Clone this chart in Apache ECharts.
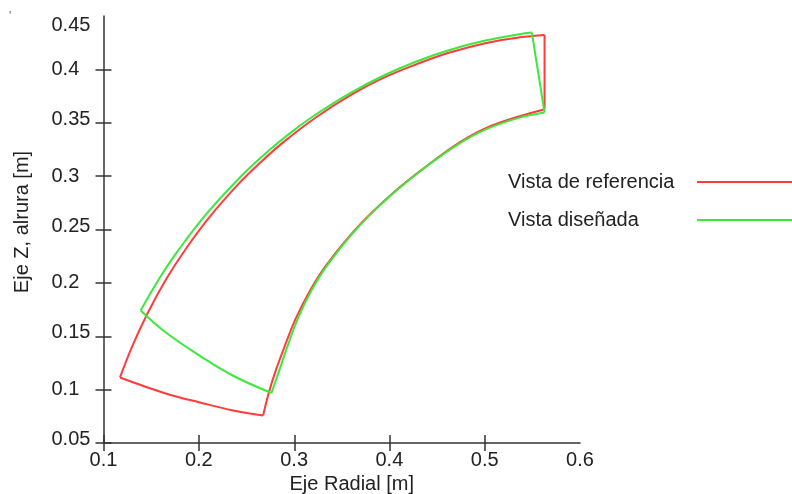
<!DOCTYPE html>
<html>
<head>
<meta charset="utf-8">
<script src="https://cdn.jsdelivr.net/npm/echarts@6/dist/echarts.min.js"></script>
<style>
html, body { margin: 0; padding: 0; background: #fff; }
#grafico { width: 792px; height: 494px; }
</style>
</head>
<body>
<div id="grafico"></div>
<script>
// vista de referencia: arco exterior, arco interior, borde inferior
var refExtRadial = [0.1173, 0.1300, 0.1460, 0.1660, 0.1865, 0.2116, 0.2410, 0.2640, 0.2885, 0.3235, 0.3584, 0.3930, 0.4283, 0.4632, 0.5017, 0.5366, 0.5628];
var refExtZ      = [0.1114, 0.1403, 0.1711, 0.2038, 0.2320, 0.2620, 0.2920, 0.3122, 0.3316, 0.3554, 0.3755, 0.3918, 0.4048, 0.4158, 0.4248, 0.4300, 0.4323];
var refIntRadial = [0.5628, 0.5366, 0.5017, 0.4737, 0.4388, 0.4038, 0.3689, 0.3340, 0.3165, 0.3018, 0.2903, 0.2808, 0.2735, 0.2675];
var refIntZ      = [0.3627, 0.3561, 0.3452, 0.3316, 0.3092, 0.2842, 0.2544, 0.2169, 0.1925, 0.1667, 0.1410, 0.1180, 0.0972, 0.0758];
var refInfRadial = [0.2675, 0.2361, 0.2012, 0.1662, 0.1173];
var refInfZ      = [0.0758, 0.0805, 0.0880, 0.0962, 0.1114];

// vista diseñada
var disExtRadial = [0.1390, 0.1592, 0.1767, 0.2082, 0.2465, 0.2738, 0.3000, 0.3235, 0.3584, 0.3930, 0.4283, 0.4632, 0.5017, 0.5366, 0.5495];
var disExtZ      = [0.1742, 0.2050, 0.2284, 0.2649, 0.3018, 0.3242, 0.3431, 0.3582, 0.3776, 0.3938, 0.4074, 0.4182, 0.4272, 0.4330, 0.4345];
var disIntRadial = [0.5628, 0.5366, 0.5017, 0.4737, 0.4388, 0.4038, 0.3689, 0.3345, 0.3180, 0.3040, 0.2932, 0.2845, 0.2763];
var disIntZ      = [0.3596, 0.3548, 0.3440, 0.3307, 0.3090, 0.2837, 0.2539, 0.2162, 0.1925, 0.1667, 0.1410, 0.1180, 0.0968];
var disInfRadial = [0.2763, 0.2361, 0.2012, 0.1662, 0.1390];
var disInfZ      = [0.0968, 0.1130, 0.1317, 0.1530, 0.1742];

var nombres = ['Vista de referencia', 'Vista diseñada'];
var colores = ['#ff3c3c', '#3de83d'];

// ejes
var xMin = 0.1, xMax = 0.6, xPaso = 0.1, xUltimaMarca = 0.5;
var zMin = 0.05, zMax = 0.45, zPaso = 0.05, zUltimaMarca = 0.4;

function pares(a, b) {
	var out = [];
	for (var i = 0; i < a.length; i++) out.push([a[i], b[i]]);
	return out;
}

function tramo(nombre, color, datos, suave) {
	return {
		name: nombre, type: 'line', xAxisIndex: 0, yAxisIndex: 0,
		symbol: 'none', smooth: suave,
		lineStyle: { color: color, width: 2 }, itemStyle: { color: color },
		data: datos
	};
}

// contorno completo con sus cuatro bordes
function contorno(nombre, color, extR, extZ, intR, intZ, infR, infZ) {
	var n = extR.length - 1;
	return [
		tramo(nombre, color, pares(extR, extZ), 0.4),
		tramo(nombre, color, [[extR[n], extZ[n]], [intR[0], intZ[0]]], false),
		tramo(nombre, color, pares(intR, intZ), 0.4),
		tramo(nombre, color, pares(infR, infZ), 0.4)
	];
}

var fuente = 'Liberation Sans, Arial, sans-serif';
var gris = '#333';

var myChart = echarts.init(document.getElementById('grafico'));
myChart.setOption({
	animation: false,
	graphic: [{ type: 'text', left: 9, top: 11, style: { text: "'", fontSize: 12, fill: '#666' } }],
	grid: [
		{ left: 103.5, right: 212, top: 16, bottom: 51, outerBoundsMode: 'none' },
		// solo para las marcas cruzadas (sin marca en 0.6 / 0.45)
		{ left: 103.5, right: 307, top: 69.4, bottom: 51, outerBoundsMode: 'none' }
	],
	xAxis: [{
		type: 'value', gridIndex: 0, min: xMin, max: xMax, interval: xPaso,
		name: 'Eje Radial [m]', nameLocation: 'middle', nameGap: 30,
		nameTextStyle: { fontFamily: fuente, fontSize: 20, color: '#222', padding: [0, 0, 0, 20] },
		axisLine: { show: true, lineStyle: { color: gris, width: 1.5 } },
		axisTick: { show: false },
		splitLine: { show: false },
		axisLabel: { margin: 7, fontFamily: fuente, fontSize: 20, color: '#222' }
	}, {
		type: 'value', gridIndex: 1, min: xMin, max: xUltimaMarca, interval: xPaso, offset: -8,
		axisLine: { show: false },
		axisTick: { show: true, length: 16, lineStyle: { color: gris, width: 1.5 } },
		splitLine: { show: false },
		axisLabel: { show: false }
	}],
	yAxis: [{
		type: 'value', gridIndex: 0, min: zMin, max: zMax, interval: zPaso,
		name: 'Eje Z, alrura [m]', nameLocation: 'middle', nameGap: 71,
		nameTextStyle: { fontFamily: fuente, fontSize: 20, color: '#222', padding: [0, 0, 0, 15] },
		axisLine: { show: true, lineStyle: { color: gris, width: 1.5 } },
		axisTick: { show: false },
		splitLine: { show: false },
		axisLabel: {
			margin: 52, align: 'left', fontFamily: fuente, fontSize: 20, color: '#222',
			formatter: function (v) {
				var t = String(+v.toFixed(2));
				if (t === '0.45') return '{abajo|' + t + '}';
				if (t.length === 4) return '{arriba|' + t + '}';
				return t;
			},
			rich: {
				arriba: { fontFamily: fuente, fontSize: 20, color: '#222', padding: [0, 0, 7, 0] },
				abajo: { fontFamily: fuente, fontSize: 20, color: '#222', padding: [18, 0, 0, 0] }
			}
		}
	}, {
		type: 'value', gridIndex: 1, min: zMin, max: zUltimaMarca, interval: zPaso, offset: -8,
		axisLine: { show: false },
		axisTick: { show: true, length: 16, lineStyle: { color: gris, width: 1.5 } },
		splitLine: { show: false },
		axisLabel: { show: false }
	}],
	legend: {
		orient: 'vertical', right: 0, top: 172, padding: 0,
		align: 'right', itemWidth: 95, itemHeight: 2, itemGap: 18,
		formatter: '{t|{name}}',
		textStyle: {
			fontFamily: fuente, fontSize: 20, color: '#222',
			rich: { t: { width: 184, align: 'left', fontFamily: fuente, fontSize: 20, color: '#222', lineHeight: 20 } }
		},
		data: [{ name: nombres[0], icon: 'rect' }, { name: nombres[1], icon: 'rect' }]
	},
	series: [].concat(
		contorno(nombres[0], colores[0], refExtRadial, refExtZ, refIntRadial, refIntZ, refInfRadial, refInfZ),
		contorno(nombres[1], colores[1], disExtRadial, disExtZ, disIntRadial, disIntZ, disInfRadial, disInfZ)
	)
});
</script>
</body>
</html>
